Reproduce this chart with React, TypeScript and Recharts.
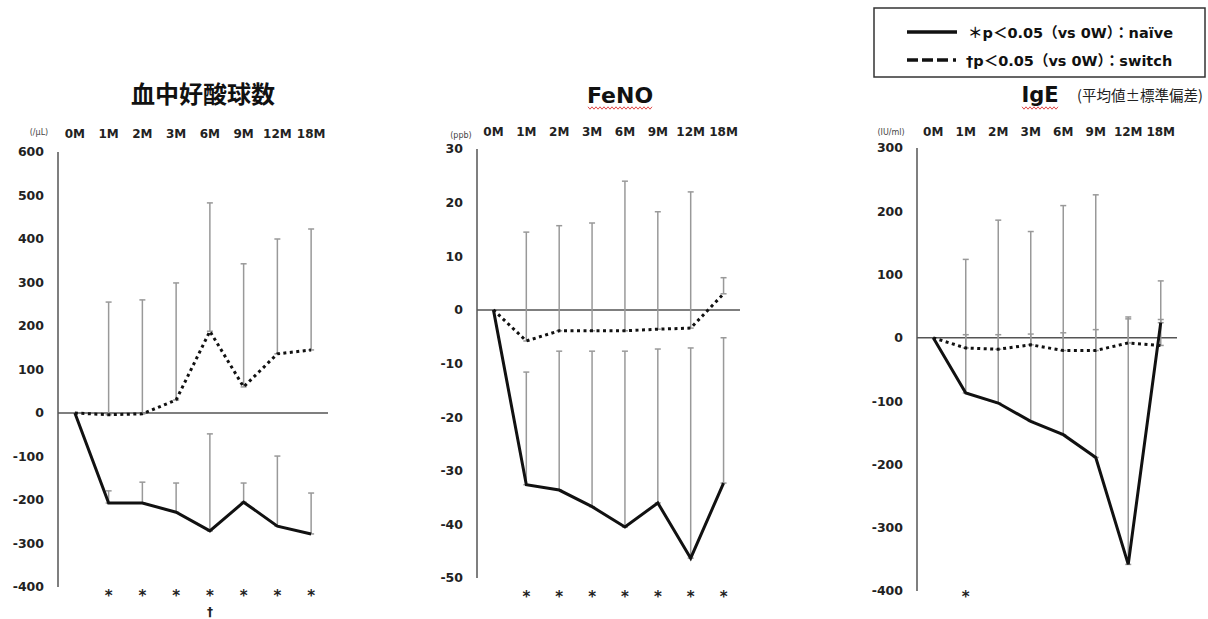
import React from "react";
import { LineChart, Line, XAxis, YAxis, ErrorBar, ReferenceLine } from "recharts";

const months = ["0M", "1M", "2M", "3M", "6M", "9M", "12M", "18M"];

// 血中好酸球数 (/μL)
const eosNaive = [0, -207, -207, -228, -271, -205, -260, -278];
const eosNaiveSd = [0, 28, 48, 67, 223, 44, 161, 94];
const eosSwitch = [0, -4, -2, 30, 188, 60, 136, 145];
const eosSwitchSd = [0, 259, 262, 269, 295, 283, 264, 278];
const eosNaiveSig = ["", "*", "*", "*", "*", "*", "*", "*"];
const eosSwitchSig = ["", "", "", "", "†", "", "", ""];
const eosTicks = [-400, -300, -200, -100, 0, 100, 200, 300, 400, 500, 600];

// FeNO (ppb)
const fenoNaive = [0, -32.6, -33.6, -36.7, -40.5, -36, -46.3, -32.3];
const fenoNaiveSd = [0, 21, 25.9, 29, 32.8, 28.7, 39.2, 27.1];
const fenoSwitch = [0, -5.8, -3.9, -3.9, -3.9, -3.6, -3.4, 3];
const fenoSwitchSd = [0, 20.3, 19.6, 20.1, 27.9, 21.9, 25.4, 3];
const fenoNaiveSig = ["", "*", "*", "*", "*", "*", "*", "*"];
const fenoSwitchSig = ["", "", "", "", "", "", "", ""];
const fenoTicks = [-50, -40, -30, -20, -10, 0, 10, 20, 30];

// IgE (IU/ml)
const igeNaive = [0, -87, -103, -132, -153, -189, -358, 24];
const igeNaiveSd = [0, 92, 108, 138, 161, 202, 388, 66];
const igeSwitch = [0, -16, -18, -11, -20, -20, -8, -12];
const igeSwitchSd = [0, 140, 204, 179, 229, 246, 41, 41];
const igeNaiveSig = ["", "*", "", "", "", "", "", ""];
const igeSwitchSig = ["", "", "", "", "", "", "", ""];
const igeTicks = [-400, -300, -200, -100, 0, 100, 200, 300];

const build = (naive: number[], naiveSd: number[], sw: number[], swSd: number[]) =>
  months.map((m, i) => ({
    month: m,
    naive: naive[i],
    switch: sw[i],
    naiveErr: naiveSd[i] ? [0, naiveSd[i]] : null,
    switchErr: swSd[i] ? [0, swSd[i]] : null,
  }));

const axisFont = "DejaVu Sans, Verdana, sans-serif";
const cjkFont = "Noto Sans CJK JP, sans-serif";

const sigTick = (naiveSig: string[], switchSig: string[], dy: number) => (props: any) => {
  const { x, y, payload } = props;
  const i = months.indexOf(payload.value);
  return (
    <g>
      {naiveSig[i] ? (
        <text x={x} y={y + dy + 7} textAnchor="middle" fontFamily={axisFont} fontWeight={700} fontSize={15} fill="#222">
          {naiveSig[i]}
        </text>
      ) : null}
      {switchSig[i] ? (
        <text x={x} y={y + dy + 22} textAnchor="middle" fontFamily={axisFont} fontWeight={700} fontSize={12} fill="#222">
          {switchSig[i]}
        </text>
      ) : null}
    </g>
  );
};

interface PanelProps {
  plotLeft: number;
  plotTop: number;
  plotWidth: number;
  plotHeight: number;
  data: any[];
  domain: [number, number];
  ticks: number[];
  labelGap: number;
  sigGap: number;
  naiveSig: string[];
  switchSig: string[];
}

function Panel(p: PanelProps) {
  const yw = 56;
  const topH = 42;
  const bottomH = 40;
  const band = p.plotWidth / months.length;
  const pad = { left: band / 2, right: band / 2 };
  return (
    <div style={{ position: "absolute", left: p.plotLeft - yw, top: p.plotTop - topH }}>
      <LineChart
        width={yw + p.plotWidth + 10}
        height={topH + p.plotHeight + bottomH}
        data={p.data}
        margin={{ top: 0, right: 10, bottom: 0, left: 0 }}
      >
        <XAxis
          dataKey="month"
          orientation="top"
          height={topH}
          axisLine={false}
          tickLine={false}
          tickSize={0}
          tickMargin={p.labelGap}
          padding={pad}
          interval={0}
          tick={{ fontSize: 12, fontWeight: 700, fill: "#222", fontFamily: axisFont }}
        />
        <XAxis
          xAxisId="sig"
          dataKey="month"
          orientation="bottom"
          height={bottomH}
          axisLine={false}
          tickLine={false}
          tickSize={0}
          tickMargin={0}
          padding={pad}
          interval={0}
          tick={sigTick(p.naiveSig, p.switchSig, p.sigGap)}
        />
        <YAxis
          type="number"
          width={yw}
          domain={p.domain}
          ticks={p.ticks}
          interval={0}
          allowDataOverflow
          axisLine={{ stroke: "#555", strokeWidth: 1.5 }}
          tickLine={false}
          tickSize={6}
          tickMargin={8}
          tick={{ fontSize: 12.5, fontWeight: 700, fill: "#222", fontFamily: axisFont }}
        />
        <ReferenceLine y={0} stroke="#555" strokeWidth={1.5} />
        <Line dataKey="naive" stroke="none" dot={false} activeDot={false} legendType="none" isAnimationActive={false}>
          <ErrorBar dataKey="naiveErr" direction="y" width={3} stroke="#999" strokeWidth={1.5} isAnimationActive={false} />
        </Line>
        <Line dataKey="switch" stroke="none" dot={false} activeDot={false} legendType="none" isAnimationActive={false}>
          <ErrorBar dataKey="switchErr" direction="y" width={3} stroke="#999" strokeWidth={1.5} isAnimationActive={false} />
        </Line>
        <Line
          type="linear"
          dataKey="switch"
          stroke="#111"
          strokeWidth={3}
          strokeDasharray="3 3.5"
          dot={false}
          activeDot={false}
          isAnimationActive={false}
        />
        <Line
          type="linear"
          dataKey="naive"
          stroke="#111"
          strokeWidth={3}
          dot={false}
          activeDot={false}
          isAnimationActive={false}
        />
      </LineChart>
    </div>
  );
}

// red spell-check squiggle under a word
const wave = (x0: number, x1: number, y: number) => {
  const pts: string[] = [];
  let up = true;
  for (let x = x0; x <= x1; x += 2) {
    pts.push(`${x},${up ? y - 1.2 : y + 1.2}`);
    up = !up;
  }
  return pts.join(" ");
};

export default function App() {
  return (
    <div style={{ position: "absolute", left: 0, top: 0, width: 1208, height: 619, overflow: "hidden", background: "#fff" }}>
      <Panel
        plotLeft={58}
        plotTop={152}
        plotWidth={270}
        plotHeight={435}
        data={build(eosNaive, eosNaiveSd, eosSwitch, eosSwitchSd)}
        domain={[-400, 600]}
        ticks={eosTicks}
        labelGap={14.5}
        sigGap={7}
        naiveSig={eosNaiveSig}
        switchSig={eosSwitchSig}
      />
      <Panel
        plotLeft={477}
        plotTop={149}
        plotWidth={263}
        plotHeight={429}
        data={build(fenoNaive, fenoNaiveSd, fenoSwitch, fenoSwitchSd)}
        domain={[-50, 30]}
        ticks={fenoTicks}
        labelGap={13.5}
        sigGap={17}
        naiveSig={fenoNaiveSig}
        switchSig={fenoSwitchSig}
      />
      <Panel
        plotLeft={917}
        plotTop={148}
        plotWidth={260}
        plotHeight={443}
        data={build(igeNaive, igeNaiveSd, igeSwitch, igeSwitchSd)}
        domain={[-400, 300]}
        ticks={igeTicks}
        labelGap={12.5}
        sigGap={4}
        naiveSig={igeNaiveSig}
        switchSig={igeSwitchSig}
      />
      <svg width={1208} height={619} style={{ position: "absolute", left: 0, top: 0, pointerEvents: "none" }}>
        <text x={203} y={103} textAnchor="middle" fontFamily={cjkFont} fontWeight={700} fontSize={24} fill="#111">
          血中好酸球数
        </text>
        <text x={620} y={103} textAnchor="middle" fontFamily={axisFont} fontWeight={700} fontSize={22} fill="#111">
          FeNO
        </text>
        <polyline points={wave(588, 653, 108)} stroke="#e04848" strokeWidth={1} fill="none" />
        <text x={1040} y={102} textAnchor="middle" fontFamily={axisFont} fontWeight={700} fontSize={21} fill="#111">
          IgE
        </text>
        <polyline points={wave(1022, 1058, 108)} stroke="#e04848" strokeWidth={1} fill="none" />
        <text x={1077} y={101} fontFamily={cjkFont} fontSize={14.5} fill="#222">
          (平均値±標準偏差)
        </text>

        <text x={39} y={135} textAnchor="middle" fontFamily={axisFont} fontSize={8} fill="#444">(/μL)</text>
        <text x={461} y={138} textAnchor="middle" fontFamily={axisFont} fontSize={8} fill="#444">(ppb)</text>
        <text x={891} y={135} textAnchor="middle" fontFamily={axisFont} fontSize={8} fill="#444">(IU/ml)</text>

        <rect x={874} y={8} width={331} height={69} fill="#fff" stroke="#333" strokeWidth={1.5} />
        <line x1={907} y1={32} x2={957} y2={32} stroke="#111" strokeWidth={3.5} />
        <text x={968} y={37.5} fontFamily={`${axisFont}, ${cjkFont}`} fontWeight={700} fontSize={14.5} fill="#111">
          ＊p＜0.05（vs 0W）：naïve
        </text>
        <line x1={907} y1={60} x2={956} y2={60} stroke="#111" strokeWidth={3.5} strokeDasharray="11 4 11 4 11 5 3" />
        <text x={966} y={65.5} fontFamily={`${axisFont}, ${cjkFont}`} fontWeight={700} fontSize={14.5} fill="#111">
          †p＜0.05（vs 0W）：switch
        </text>
      </svg>
    </div>
  );
}
